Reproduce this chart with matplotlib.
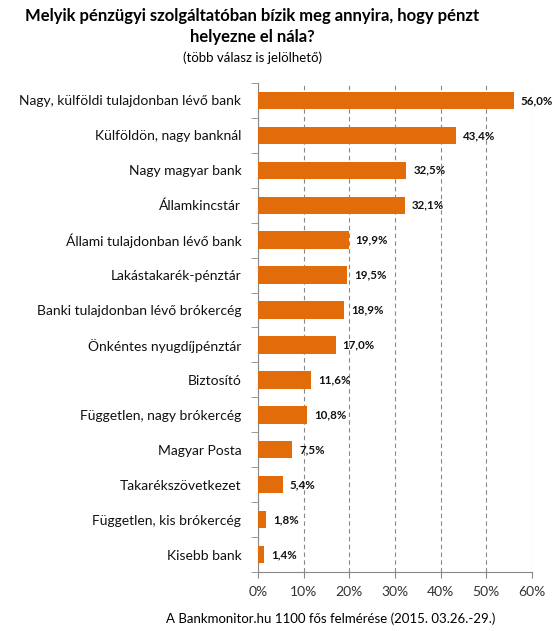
import matplotlib.pyplot as plt

plt.rcParams['font.family'] = ['Lato', 'DejaVu Sans']

# adatok
categories = ["Nagy, külföldi tulajdonban lévő bank", "Külföldön, nagy banknál",
              "Nagy magyar bank", "Államkincstár", "Állami tulajdonban lévő bank",
              "Lakástakarék-pénztár", "Banki tulajdonban lévő brókercég",
              "Önkéntes nyugdíjpénztár", "Biztosító", "Független, nagy brókercég",
              "Magyar Posta", "Takarékszövetkezet", "Független, kis brókercég",
              "Kisebb bank"]
values = [56.0, 43.4, 32.5, 32.1, 19.9, 19.5, 18.9, 17.0, 11.6, 10.8, 7.5, 5.4, 1.8, 1.4]
xticks = [0, 10, 20, 30, 40, 50, 60]

fig = plt.figure(figsize=(5.59, 6.31), dpi=100)
ax = fig.add_axes([0.4615, 0.0935, 0.49, 0.775])

y = range(len(categories))
ax.barh(y, values, height=0.5, color='#E36C0A', zorder=3)

for i, v in enumerate(values):
    ax.text(v + 1.5, i, "{:.1f}%".format(v).replace('.', ','), va='center', ha='left',
            fontsize=8.3, fontweight='bold', color='#111111')

ax.set_xlim(0, 60)
ax.set_ylim(len(categories) - 0.5, -0.5)
ax.set_xticks(xticks)
ax.set_xticklabels(["{}%".format(t) for t in xticks], fontsize=10, color='#333333')
ax.set_yticks(list(y))
ax.set_yticklabels(categories, fontsize=10, color='#111111')
ax.tick_params(axis='y', length=0, pad=12)
ax.tick_params(axis='x', length=4, color='#888888', pad=6)

# elvalaszto jelek a kategoriak kozott
ax.set_yticks([i - 0.5 for i in range(len(categories) + 1)], minor=True)
ax.tick_params(axis='y', which='minor', length=5, color='#888888')

ax.grid(axis='x', linestyle=(0, (4, 3)), color='#888888', linewidth=0.8, zorder=0)
for s in ['top', 'right']:
    ax.spines[s].set_visible(False)
ax.spines['left'].set_color('#888888')
ax.spines['bottom'].set_color('#888888')

fig.text(0.451, 0.988, "Melyik pénzügyi szolgáltatóban bízik meg annyira, hogy pénzt\nhelyezne el nála?",
         ha='center', va='top', fontsize=12, fontweight='bold', linespacing=1.45)
fig.text(0.451, 0.909, "(több válasz is jelölhető)", ha='center', va='center', fontsize=9.5)
fig.text(0.592, 0.02, "A Bankmonitor.hu 1100 fős felmérése (2015. 03.26.-29.)", ha='center',
         va='center', fontsize=9.5)

fig.savefig('out.png', dpi=100)
